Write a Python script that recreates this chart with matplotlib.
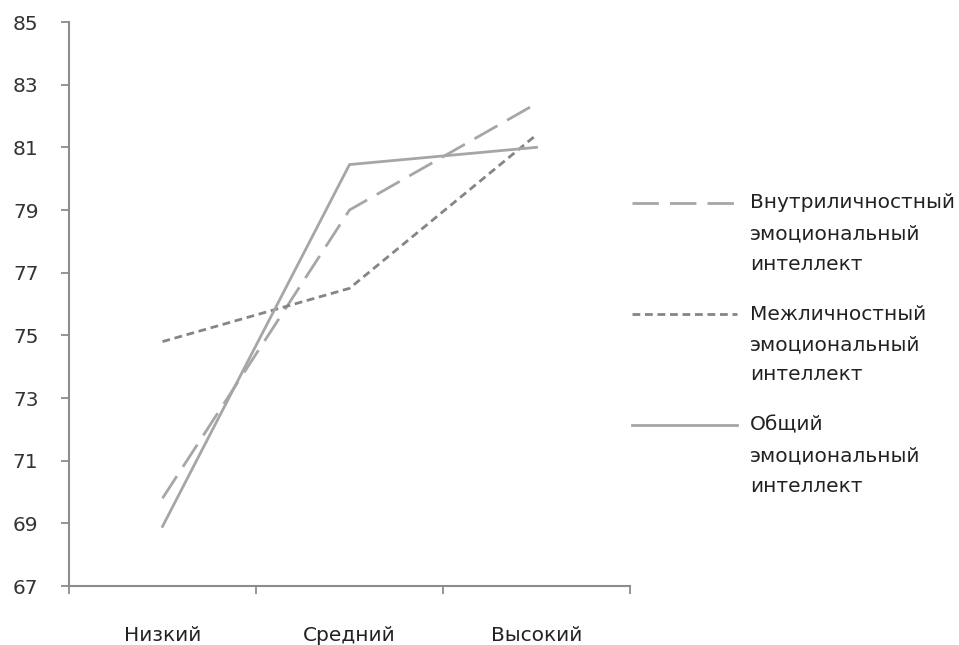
import matplotlib.pyplot as plt
from matplotlib.lines import Line2D
from matplotlib.ticker import FixedLocator, NullFormatter

plt.rcParams.update({
    "font.family": "DejaVu Sans",
    "font.size": 14.5,
    "axes.spines.top": False,
    "axes.spines.right": False,
})

levels = ["Низкий", "Средний", "Высокий"]
intra = [69.8, 79.0, 82.4]
inter = [74.8, 76.5, 81.4]
total = [68.9, 80.45, 81.0]
series_names = [
    "Внутриличностный\nэмоциональный\nинтеллект",
    "Межличностный\nэмоциональный\nинтеллект",
    "Общий\nэмоциональный\nинтеллект",
]
y_ticks = list(range(67, 86, 2))

axis_grey = "#8c8c8c"
text_color = "#222222"
styles = [
    dict(color="#a6a6a6", linewidth=2.0, dashes=(9.5, 4)),
    dict(color="#858585", linewidth=2.0, dashes=(2.8, 1.7)),
    dict(color="#a6a6a6", linewidth=2.0, linestyle="-"),
]

W, H = 959, 645
fig = plt.figure(figsize=(W / 100, H / 100), dpi=100)
ax = fig.add_axes([69 / W, 1 - 586 / H, 561 / W, 564 / H])

x = list(range(len(levels)))
for values, st in zip([intra, inter, total], styles):
    ax.plot(x, values, **st)

ax.set_xlim(-0.5, len(levels) - 0.5)
ax.set_ylim(y_ticks[0], y_ticks[-1])
ax.set_yticks(y_ticks)

# category boundaries get the tick marks, labels sit between them
ax.xaxis.set_major_locator(FixedLocator([i - 0.5 for i in range(len(levels) + 1)]))
ax.xaxis.set_major_formatter(NullFormatter())
ax.xaxis.set_minor_locator(FixedLocator(x))
ax.set_xticklabels(levels, minor=True)
ax.tick_params(axis="x", which="major", direction="out", length=6,
               width=1.3, color=axis_grey)
ax.tick_params(axis="x", which="minor", length=0, pad=28.5, labelcolor=text_color)
ax.tick_params(axis="y", direction="out", length=6, width=1.3, color=axis_grey,
               pad=16, labelcolor="#333333")

for side in ("left", "bottom"):
    ax.spines[side].set_color(axis_grey)
    ax.spines[side].set_linewidth(1.5)

# legend: handle sits level with the first line of each label
entry_top = 203
entry_step = 111
line_step = 30.5
for i, (st, name) in enumerate(zip(styles, series_names)):
    y0 = entry_top + i * entry_step
    fig.add_artist(Line2D([632 / W, 737 / W], [1 - y0 / H, 1 - y0 / H],
                          transform=fig.transFigure, **st))
    for j, part in enumerate(name.split("\n")):
        fig.text(750 / W, 1 - (y0 + j * line_step) / H, part,
                 ha="left", va="center", color=text_color)

fig.savefig("out.png", dpi=100)
